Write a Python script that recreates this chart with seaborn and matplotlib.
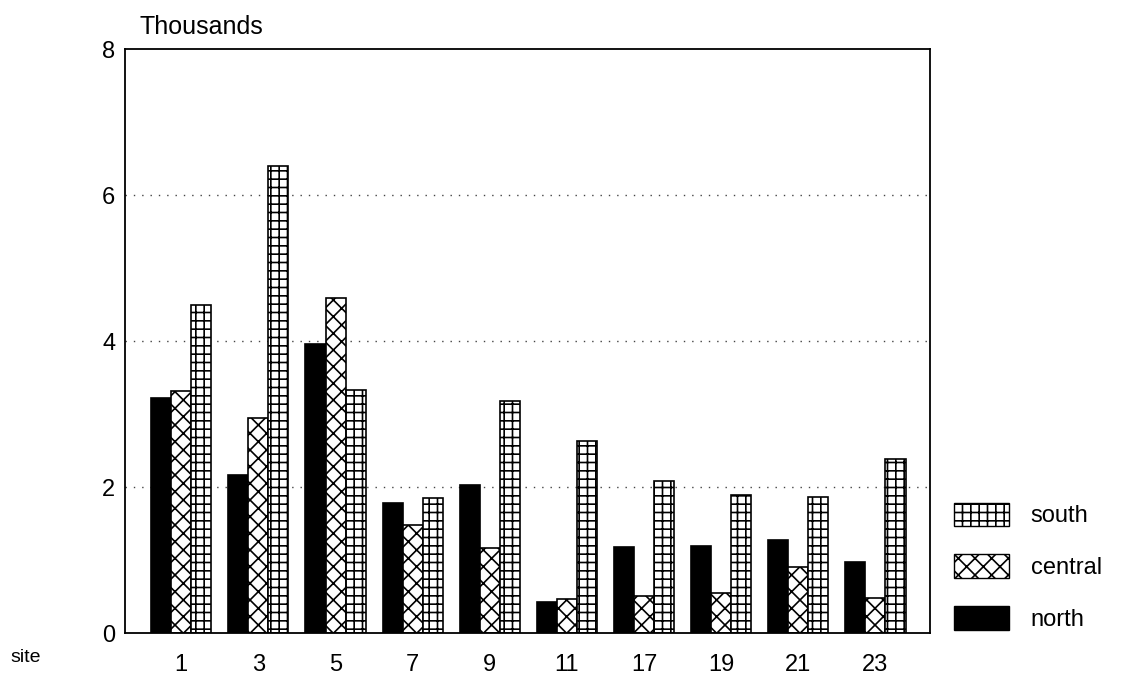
import matplotlib
matplotlib.use("Agg")
import matplotlib.pyplot as plt
from matplotlib.patches import Patch
import pandas as pd
import seaborn as sns

# data (thousands)
sites = ["1", "3", "5", "7", "9", "11", "17", "19", "21", "23"]
north = [3.22, 2.16, 3.96, 1.78, 2.03, 0.42, 1.18, 1.19, 1.27, 0.97]
central = [3.31, 2.95, 4.59, 1.48, 1.16, 0.46, 0.51, 0.55, 0.90, 0.48]
south = [4.49, 6.40, 3.33, 1.85, 3.18, 2.63, 2.08, 1.89, 1.86, 2.38]
regions = ["north", "central", "south"]

df = pd.DataFrame({
    "site": sites * 3,
    "region": ["north"] * 10 + ["central"] * 10 + ["south"] * 10,
    "value": north + central + south,
})

sns.set_style("white")
plt.rcParams["font.family"] = ["Liberation Sans", "DejaVu Sans"]
plt.rcParams["text.color"] = "black"
plt.rcParams["xtick.color"] = "black"
plt.rcParams["ytick.color"] = "black"
plt.rcParams["hatch.linewidth"] = 1.2

fig = plt.figure(figsize=(11.23, 6.91), dpi=100)
ax = fig.add_axes([0.1113, 0.0839, 0.717, 0.845])

sns.barplot(data=df, x="site", y="value", hue="region", hue_order=regions,
            order=sites, width=0.78, gap=0, legend=False, ax=ax,
            edgecolor="black", linewidth=1.2)

styles = {
    "north": dict(facecolor="black", hatch=None),
    "central": dict(facecolor="white", hatch="xx"),
    "south": dict(facecolor="white", hatch="++"),
}
for cont, reg in zip(ax.containers, regions):
    for bar in cont:
        bar.set_facecolor(styles[reg]["facecolor"])
        bar.set_edgecolor("black")
        if styles[reg]["hatch"]:
            bar.set_hatch(styles[reg]["hatch"])

ax.set_ylim(0, 8)
ax.set_xlim(-0.73, 9.71)
ax.set_yticks([0, 2, 4, 6, 8])
ax.set_xlabel("")
ax.set_ylabel("")
for y in [2, 4, 6]:
    ax.axhline(y, color="#444444", linestyle=(0, (1, 5)), linewidth=1, zorder=0)

for sp in ax.spines.values():
    sp.set_visible(True)
    sp.set_color("black")
    sp.set_linewidth(1.3)

ax.tick_params(axis="y", direction="in", length=9, width=1.2, labelsize=17, pad=7)
ax.tick_params(axis="x", length=0, labelsize=17, pad=15)

handles = [Patch(facecolor=styles[r]["facecolor"], edgecolor="black",
                 hatch=styles[r]["hatch"], label=r) for r in reversed(regions)]
fig.legend(handles=handles, loc="lower left", bbox_to_anchor=(0.831, 0.056),
           frameon=False, fontsize=17, handlelength=2.33, handleheight=1.15,
           labelspacing=1.15, handletextpad=0.9)

fig.text(140 / 1123, 1 - 27 / 691, "Thousands", fontsize=18, va="center")
fig.text(10 / 1123, 1 - 657 / 691, "site", fontsize=14, va="center")

fig.savefig("out.png", dpi=100)
